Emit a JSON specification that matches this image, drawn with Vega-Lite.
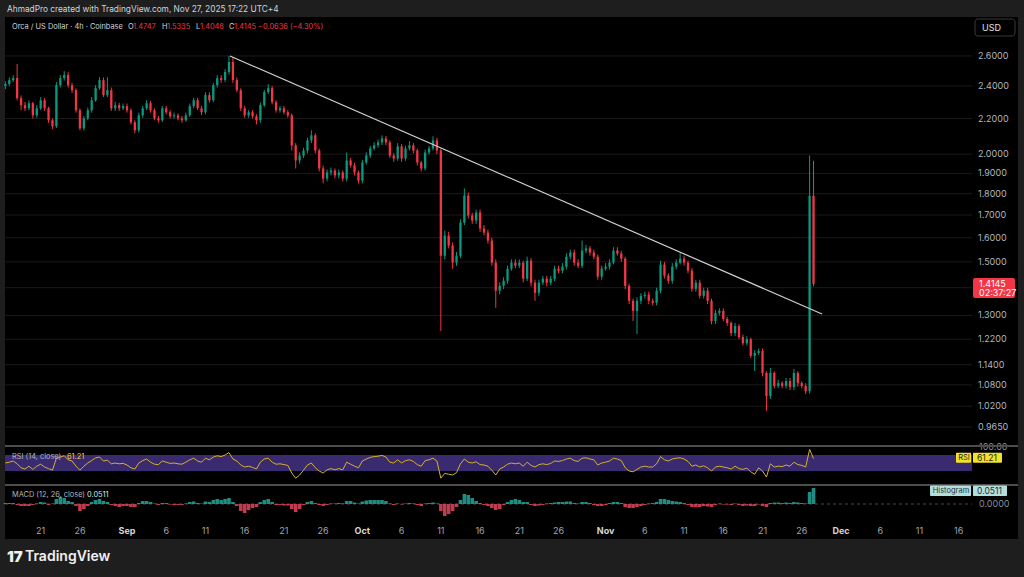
{
"$schema":"https://vega.github.io/schema/vega-lite/v6.json",
"width":1024,"height":577,
"autosize":{"type":"fit","contains":"padding"},
"padding":0,
"background":"#1e1e1e",
"view":{"stroke":null},
"config":{"font":"Inter"},
"datasets":{
"ohlc":[
{"t":"2025-08-16T12:00","o":2.399,"h":2.43,"l":2.38,"c":2.412,"r":50,"m":0.0032},
{"t":"2025-08-17T00:00","o":2.412,"h":2.455,"l":2.40,"c":2.438,"r":52,"m":0.0032},
{"t":"2025-08-17T12:00","o":2.438,"h":2.47,"l":2.425,"c":2.451,"r":55,"m":0.0032},
{"t":"2025-08-18T00:00","o":2.451,"h":2.545,"l":2.31,"c":2.323,"r":48,"m":-0.0032},
{"t":"2025-08-18T12:00","o":2.323,"h":2.34,"l":2.249,"c":2.28,"r":38,"m":-0.0064},
{"t":"2025-08-19T00:00","o":2.28,"h":2.30,"l":2.245,"c":2.261,"r":35,"m":-0.0064},
{"t":"2025-08-19T12:00","o":2.261,"h":2.31,"l":2.25,"c":2.292,"r":42,"m":-0.0064},
{"t":"2025-08-20T00:00","o":2.292,"h":2.30,"l":2.20,"c":2.219,"r":34,"m":-0.0032},
{"t":"2025-08-20T12:00","o":2.219,"h":2.28,"l":2.205,"c":2.261,"r":42,"m":0.0016},
{"t":"2025-08-21T00:00","o":2.261,"h":2.33,"l":2.25,"c":2.31,"r":47,"m":0.0064},
{"t":"2025-08-21T12:00","o":2.31,"h":2.325,"l":2.245,"c":2.261,"r":40,"m":0.0048},
{"t":"2025-08-22T00:00","o":2.261,"h":2.27,"l":2.175,"c":2.19,"r":36,"m":-0.0032},
{"t":"2025-08-22T12:00","o":2.19,"h":2.20,"l":2.138,"c":2.155,"r":32,"m":0.0016},
{"t":"2025-08-23T00:00","o":2.155,"h":2.425,"l":2.145,"c":2.405,"r":62,"m":0.016},
{"t":"2025-08-23T12:00","o":2.405,"h":2.47,"l":2.39,"c":2.451,"r":65,"m":0.0224},
{"t":"2025-08-24T00:00","o":2.451,"h":2.497,"l":2.435,"c":2.471,"r":68,"m":0.0192},
{"t":"2025-08-24T12:00","o":2.471,"h":2.49,"l":2.39,"c":2.405,"r":58,"m":0.0096},
{"t":"2025-08-25T00:00","o":2.405,"h":2.42,"l":2.355,"c":2.373,"r":55,"m":0.0064},
{"t":"2025-08-25T12:00","o":2.373,"h":2.385,"l":2.235,"c":2.249,"r":42,"m":-0.0064},
{"t":"2025-08-26T00:00","o":2.249,"h":2.26,"l":2.132,"c":2.143,"r":32,"m":-0.0224},
{"t":"2025-08-26T12:00","o":2.143,"h":2.215,"l":2.13,"c":2.201,"r":42,"m":-0.016},
{"t":"2025-08-27T00:00","o":2.201,"h":2.265,"l":2.19,"c":2.249,"r":50,"m":-0.0064},
{"t":"2025-08-27T12:00","o":2.249,"h":2.33,"l":2.235,"c":2.31,"r":56,"m":0.0064},
{"t":"2025-08-28T00:00","o":2.31,"h":2.405,"l":2.30,"c":2.386,"r":63,"m":0.0128},
{"t":"2025-08-28T12:00","o":2.386,"h":2.457,"l":2.375,"c":2.438,"r":65,"m":0.016},
{"t":"2025-08-29T00:00","o":2.438,"h":2.455,"l":2.33,"c":2.342,"r":55,"m":0.0096},
{"t":"2025-08-29T12:00","o":2.342,"h":2.457,"l":2.33,"c":2.373,"r":57,"m":0.0064},
{"t":"2025-08-30T00:00","o":2.373,"h":2.39,"l":2.245,"c":2.261,"r":48,"m":-0.0032},
{"t":"2025-08-30T12:00","o":2.261,"h":2.30,"l":2.245,"c":2.28,"r":50,"m":-0.0064},
{"t":"2025-08-31T00:00","o":2.28,"h":2.295,"l":2.245,"c":2.261,"r":48,"m":-0.0096},
{"t":"2025-08-31T12:00","o":2.261,"h":2.29,"l":2.25,"c":2.274,"r":49,"m":-0.0064},
{"t":"2025-09-01T00:00","o":2.274,"h":2.29,"l":2.235,"c":2.249,"r":45,"m":-0.0064},
{"t":"2025-09-01T12:00","o":2.249,"h":2.26,"l":2.165,"c":2.178,"r":38,"m":-0.0096},
{"t":"2025-09-02T00:00","o":2.178,"h":2.19,"l":2.115,"c":2.132,"r":35,"m":-0.0096},
{"t":"2025-09-02T12:00","o":2.132,"h":2.235,"l":2.12,"c":2.219,"r":50,"m":0.0032},
{"t":"2025-09-03T00:00","o":2.219,"h":2.275,"l":2.205,"c":2.261,"r":56,"m":0.0096},
{"t":"2025-09-03T12:00","o":2.261,"h":2.31,"l":2.25,"c":2.292,"r":60,"m":0.0096},
{"t":"2025-09-04T00:00","o":2.292,"h":2.305,"l":2.235,"c":2.249,"r":52,"m":0.0064},
{"t":"2025-09-04T12:00","o":2.249,"h":2.26,"l":2.19,"c":2.201,"r":47,"m":0.0016},
{"t":"2025-09-05T00:00","o":2.201,"h":2.215,"l":2.175,"c":2.19,"r":46,"m":-0.0032},
{"t":"2025-09-05T12:00","o":2.19,"h":2.275,"l":2.18,"c":2.261,"r":55,"m":0.0032},
{"t":"2025-09-06T00:00","o":2.261,"h":2.275,"l":2.225,"c":2.237,"r":52,"m":0.0032},
{"t":"2025-09-06T12:00","o":2.237,"h":2.25,"l":2.20,"c":2.213,"r":49,"m":-0.0016},
{"t":"2025-09-07T00:00","o":2.213,"h":2.235,"l":2.20,"c":2.219,"r":50,"m":-0.0032},
{"t":"2025-09-07T12:00","o":2.219,"h":2.23,"l":2.19,"c":2.201,"r":48,"m":-0.0032},
{"t":"2025-09-08T00:00","o":2.201,"h":2.215,"l":2.175,"c":2.19,"r":47,"m":-0.0032},
{"t":"2025-09-08T12:00","o":2.19,"h":2.235,"l":2.18,"c":2.219,"r":52,"m":0.0016},
{"t":"2025-09-09T00:00","o":2.219,"h":2.29,"l":2.21,"c":2.274,"r":58,"m":0.0064},
{"t":"2025-09-09T12:00","o":2.274,"h":2.325,"l":2.26,"c":2.31,"r":62,"m":0.008},
{"t":"2025-09-10T00:00","o":2.31,"h":2.325,"l":2.25,"c":2.261,"r":55,"m":0.0032},
{"t":"2025-09-10T12:00","o":2.261,"h":2.275,"l":2.22,"c":2.237,"r":52,"m":0.0016},
{"t":"2025-09-11T00:00","o":2.237,"h":2.36,"l":2.225,"c":2.342,"r":62,"m":0.008},
{"t":"2025-09-11T12:00","o":2.342,"h":2.36,"l":2.295,"c":2.31,"r":58,"m":0.0064},
{"t":"2025-09-12T00:00","o":2.31,"h":2.42,"l":2.30,"c":2.405,"r":65,"m":0.0128},
{"t":"2025-09-12T12:00","o":2.405,"h":2.47,"l":2.39,"c":2.451,"r":68,"m":0.016},
{"t":"2025-09-13T00:00","o":2.451,"h":2.47,"l":2.42,"c":2.438,"r":66,"m":0.0128},
{"t":"2025-09-13T12:00","o":2.438,"h":2.51,"l":2.425,"c":2.491,"r":70,"m":0.016},
{"t":"2025-09-14T00:00","o":2.491,"h":2.60,"l":2.475,"c":2.559,"r":76,"m":0.0192},
{"t":"2025-09-14T12:00","o":2.559,"h":2.593,"l":2.42,"c":2.438,"r":60,"m":0.0064},
{"t":"2025-09-15T00:00","o":2.438,"h":2.455,"l":2.36,"c":2.373,"r":55,"m":-0.0064},
{"t":"2025-09-15T12:00","o":2.373,"h":2.385,"l":2.245,"c":2.261,"r":45,"m":-0.0224},
{"t":"2025-09-16T00:00","o":2.261,"h":2.275,"l":2.205,"c":2.219,"r":40,"m":-0.0288},
{"t":"2025-09-16T12:00","o":2.219,"h":2.25,"l":2.205,"c":2.237,"r":42,"m":-0.0192},
{"t":"2025-09-17T00:00","o":2.237,"h":2.25,"l":2.20,"c":2.213,"r":39,"m":-0.0128},
{"t":"2025-09-17T12:00","o":2.213,"h":2.225,"l":2.166,"c":2.19,"r":35,"m":-0.0096},
{"t":"2025-09-18T00:00","o":2.19,"h":2.295,"l":2.175,"c":2.28,"r":52,"m":0.0064},
{"t":"2025-09-18T12:00","o":2.28,"h":2.375,"l":2.27,"c":2.361,"r":60,"m":0.0128},
{"t":"2025-09-19T00:00","o":2.361,"h":2.412,"l":2.35,"c":2.386,"r":62,"m":0.016},
{"t":"2025-09-19T12:00","o":2.386,"h":2.40,"l":2.285,"c":2.298,"r":52,"m":0.0064},
{"t":"2025-09-20T00:00","o":2.298,"h":2.31,"l":2.235,"c":2.249,"r":47,"m":-0.0032},
{"t":"2025-09-20T12:00","o":2.249,"h":2.275,"l":2.235,"c":2.261,"r":48,"m":-0.0032},
{"t":"2025-09-21T00:00","o":2.261,"h":2.275,"l":2.225,"c":2.237,"r":46,"m":-0.0048},
{"t":"2025-09-21T12:00","o":2.237,"h":2.25,"l":2.205,"c":2.219,"r":44,"m":-0.0048},
{"t":"2025-09-22T00:00","o":2.219,"h":2.23,"l":2.02,"c":2.048,"r":25,"m":-0.016},
{"t":"2025-09-22T12:00","o":2.048,"h":2.06,"l":1.925,"c":1.967,"r":12,"m":-0.0256},
{"t":"2025-09-23T00:00","o":1.967,"h":2.01,"l":1.95,"c":1.993,"r":20,"m":-0.016},
{"t":"2025-09-23T12:00","o":1.993,"h":2.035,"l":1.98,"c":2.02,"r":32,"m":-0.0032},
{"t":"2025-09-24T00:00","o":2.02,"h":2.09,"l":2.005,"c":2.075,"r":45,"m":0.0064},
{"t":"2025-09-24T12:00","o":2.075,"h":2.132,"l":2.06,"c":2.103,"r":50,"m":0.0096},
{"t":"2025-09-25T00:00","o":2.103,"h":2.115,"l":2.005,"c":2.02,"r":38,"m":0.0032},
{"t":"2025-09-25T12:00","o":2.02,"h":2.03,"l":1.91,"c":1.925,"r":30,"m":-0.0032},
{"t":"2025-09-26T00:00","o":1.925,"h":1.94,"l":1.85,"c":1.874,"r":25,"m":-0.0064},
{"t":"2025-09-26T12:00","o":1.874,"h":1.92,"l":1.86,"c":1.905,"r":33,"m":-0.0032},
{"t":"2025-09-27T00:00","o":1.905,"h":1.93,"l":1.89,"c":1.915,"r":36,"m":0.0016},
{"t":"2025-09-27T12:00","o":1.915,"h":1.925,"l":1.875,"c":1.89,"r":33,"m":0.0016},
{"t":"2025-09-28T00:00","o":1.89,"h":1.92,"l":1.875,"c":1.905,"r":36,"m":0.0032},
{"t":"2025-09-28T12:00","o":1.905,"h":1.915,"l":1.86,"c":1.874,"r":33,"m":0.0016},
{"t":"2025-09-29T00:00","o":1.874,"h":2.009,"l":1.86,"c":1.967,"r":52,"m":0.0096},
{"t":"2025-09-29T12:00","o":1.967,"h":1.98,"l":1.93,"c":1.941,"r":47,"m":0.0096},
{"t":"2025-09-30T00:00","o":1.941,"h":1.955,"l":1.89,"c":1.905,"r":42,"m":0.0048},
{"t":"2025-09-30T12:00","o":1.905,"h":1.915,"l":1.85,"c":1.864,"r":38,"m":0.0016},
{"t":"2025-10-01T00:00","o":1.864,"h":1.97,"l":1.85,"c":1.956,"r":55,"m":0.008},
{"t":"2025-10-01T12:00","o":1.956,"h":2.01,"l":1.945,"c":1.993,"r":60,"m":0.0112},
{"t":"2025-10-02T00:00","o":1.993,"h":2.045,"l":1.98,"c":2.031,"r":64,"m":0.0128},
{"t":"2025-10-02T12:00","o":2.031,"h":2.065,"l":2.02,"c":2.048,"r":66,"m":0.0128},
{"t":"2025-10-03T00:00","o":2.048,"h":2.08,"l":2.035,"c":2.064,"r":67,"m":0.0128},
{"t":"2025-10-03T12:00","o":2.064,"h":2.103,"l":2.05,"c":2.086,"r":69,"m":0.0128},
{"t":"2025-10-04T00:00","o":2.086,"h":2.10,"l":2.05,"c":2.064,"r":65,"m":0.0096},
{"t":"2025-10-04T12:00","o":2.064,"h":2.075,"l":1.98,"c":1.993,"r":52,"m":0.0016},
{"t":"2025-10-05T00:00","o":1.993,"h":2.005,"l":1.96,"c":1.977,"r":50,"m":-0.0032},
{"t":"2025-10-05T12:00","o":1.977,"h":2.06,"l":1.965,"c":2.042,"r":58,"m":0.0016},
{"t":"2025-10-06T00:00","o":2.042,"h":2.055,"l":1.96,"c":1.977,"r":50,"m":-0.0016},
{"t":"2025-10-06T12:00","o":1.977,"h":2.045,"l":1.965,"c":2.031,"r":56,"m":0.0016},
{"t":"2025-10-07T00:00","o":2.031,"h":2.07,"l":2.02,"c":2.048,"r":58,"m":0.0032},
{"t":"2025-10-07T12:00","o":2.048,"h":2.06,"l":2.005,"c":2.02,"r":54,"m":0.0016},
{"t":"2025-10-08T00:00","o":2.02,"h":2.03,"l":1.94,"c":1.956,"r":46,"m":-0.0032},
{"t":"2025-10-08T12:00","o":1.956,"h":1.965,"l":1.91,"c":1.925,"r":42,"m":-0.0064},
{"t":"2025-10-09T00:00","o":1.925,"h":2.025,"l":1.915,"c":2.009,"r":56,"m":0.0016},
{"t":"2025-10-09T12:00","o":2.009,"h":2.045,"l":2.0,"c":2.031,"r":58,"m":0.0032},
{"t":"2025-10-10T00:00","o":2.031,"h":2.098,"l":2.02,"c":2.075,"r":62,"m":0.0048},
{"t":"2025-10-10T12:00","o":2.075,"h":2.09,"l":2.0,"c":2.02,"r":55,"m":0.0016},
{"t":"2025-10-11T00:00","o":2.02,"h":2.03,"l":1.247,"c":1.525,"r":12,"m":-0.0224},
{"t":"2025-10-11T12:00","o":1.525,"h":1.63,"l":1.51,"c":1.609,"r":24,"m":-0.0384},
{"t":"2025-10-12T00:00","o":1.609,"h":1.625,"l":1.555,"c":1.567,"r":22,"m":-0.032},
{"t":"2025-10-12T12:00","o":1.567,"h":1.58,"l":1.473,"c":1.497,"r":20,"m":-0.0224},
{"t":"2025-10-13T00:00","o":1.497,"h":1.54,"l":1.485,"c":1.525,"r":26,"m":-0.0096},
{"t":"2025-10-13T12:00","o":1.525,"h":1.68,"l":1.515,"c":1.666,"r":48,"m":0.0128},
{"t":"2025-10-14T00:00","o":1.666,"h":1.825,"l":1.655,"c":1.791,"r":60,"m":0.032},
{"t":"2025-10-14T12:00","o":1.791,"h":1.805,"l":1.685,"c":1.698,"r":52,"m":0.0288},
{"t":"2025-10-15T00:00","o":1.698,"h":1.71,"l":1.66,"c":1.675,"r":50,"m":0.0192},
{"t":"2025-10-15T12:00","o":1.675,"h":1.725,"l":1.66,"c":1.712,"r":53,"m":0.0096},
{"t":"2025-10-16T00:00","o":1.712,"h":1.725,"l":1.625,"c":1.64,"r":46,"m":0.0032},
{"t":"2025-10-16T12:00","o":1.64,"h":1.655,"l":1.61,"c":1.622,"r":45,"m":-0.0032},
{"t":"2025-10-17T00:00","o":1.622,"h":1.635,"l":1.575,"c":1.588,"r":42,"m":-0.0064},
{"t":"2025-10-17T12:00","o":1.588,"h":1.60,"l":1.485,"c":1.497,"r":32,"m":-0.0128},
{"t":"2025-10-18T00:00","o":1.497,"h":1.51,"l":1.327,"c":1.389,"r":20,"m":-0.0192},
{"t":"2025-10-18T12:00","o":1.389,"h":1.42,"l":1.375,"c":1.407,"r":35,"m":-0.016},
{"t":"2025-10-19T00:00","o":1.407,"h":1.44,"l":1.395,"c":1.426,"r":40,"m":-0.0032},
{"t":"2025-10-19T12:00","o":1.426,"h":1.485,"l":1.415,"c":1.473,"r":47,"m":0.0064},
{"t":"2025-10-20T00:00","o":1.473,"h":1.51,"l":1.465,"c":1.497,"r":50,"m":0.0128},
{"t":"2025-10-20T12:00","o":1.497,"h":1.51,"l":1.475,"c":1.485,"r":48,"m":0.016},
{"t":"2025-10-21T00:00","o":1.485,"h":1.51,"l":1.475,"c":1.497,"r":50,"m":0.0128},
{"t":"2025-10-21T12:00","o":1.497,"h":1.505,"l":1.42,"c":1.434,"r":42,"m":0.0064},
{"t":"2025-10-22T00:00","o":1.434,"h":1.521,"l":1.425,"c":1.505,"r":52,"m":0.0064},
{"t":"2025-10-22T12:00","o":1.505,"h":1.515,"l":1.405,"c":1.419,"r":44,"m":-0.0032},
{"t":"2025-10-23T00:00","o":1.419,"h":1.43,"l":1.352,"c":1.381,"r":40,"m":-0.0064},
{"t":"2025-10-23T12:00","o":1.381,"h":1.43,"l":1.37,"c":1.419,"r":46,"m":-0.0048},
{"t":"2025-10-24T00:00","o":1.419,"h":1.445,"l":1.41,"c":1.434,"r":48,"m":-0.0032},
{"t":"2025-10-24T12:00","o":1.434,"h":1.445,"l":1.405,"c":1.419,"r":46,"m":0.0016},
{"t":"2025-10-25T00:00","o":1.419,"h":1.445,"l":1.41,"c":1.434,"r":49,"m":0.0032},
{"t":"2025-10-25T12:00","o":1.434,"h":1.485,"l":1.425,"c":1.473,"r":55,"m":0.0048},
{"t":"2025-10-26T00:00","o":1.473,"h":1.485,"l":1.455,"c":1.465,"r":54,"m":0.0064},
{"t":"2025-10-26T12:00","o":1.465,"h":1.495,"l":1.455,"c":1.481,"r":56,"m":0.0064},
{"t":"2025-10-27T00:00","o":1.481,"h":1.535,"l":1.47,"c":1.521,"r":60,"m":0.008},
{"t":"2025-10-27T12:00","o":1.521,"h":1.55,"l":1.51,"c":1.538,"r":62,"m":0.008},
{"t":"2025-10-28T00:00","o":1.538,"h":1.55,"l":1.485,"c":1.497,"r":56,"m":0.0032},
{"t":"2025-10-28T12:00","o":1.497,"h":1.51,"l":1.475,"c":1.485,"r":54,"m":0.0016},
{"t":"2025-10-29T00:00","o":1.485,"h":1.588,"l":1.475,"c":1.546,"r":62,"m":0.0064},
{"t":"2025-10-29T12:00","o":1.546,"h":1.57,"l":1.535,"c":1.555,"r":63,"m":0.0064},
{"t":"2025-10-30T00:00","o":1.555,"h":1.565,"l":1.525,"c":1.538,"r":60,"m":0.0032},
{"t":"2025-10-30T12:00","o":1.538,"h":1.55,"l":1.51,"c":1.521,"r":58,"m":-0.0032},
{"t":"2025-10-31T00:00","o":1.521,"h":1.53,"l":1.43,"c":1.442,"r":45,"m":-0.0064},
{"t":"2025-10-31T12:00","o":1.442,"h":1.485,"l":1.43,"c":1.473,"r":50,"m":-0.0064},
{"t":"2025-11-01T00:00","o":1.473,"h":1.495,"l":1.465,"c":1.481,"r":52,"m":-0.0032},
{"t":"2025-11-01T12:00","o":1.481,"h":1.51,"l":1.47,"c":1.497,"r":55,"m":0.0032},
{"t":"2025-11-02T00:00","o":1.497,"h":1.56,"l":1.49,"c":1.546,"r":62,"m":0.0064},
{"t":"2025-11-02T12:00","o":1.546,"h":1.56,"l":1.525,"c":1.534,"r":60,"m":0.0064},
{"t":"2025-11-03T00:00","o":1.534,"h":1.545,"l":1.50,"c":1.513,"r":56,"m":0.0032},
{"t":"2025-11-03T12:00","o":1.513,"h":1.52,"l":1.395,"c":1.407,"r":38,"m":-0.0096},
{"t":"2025-11-04T00:00","o":1.407,"h":1.415,"l":1.34,"c":1.352,"r":30,"m":-0.0128},
{"t":"2025-11-04T12:00","o":1.352,"h":1.36,"l":1.281,"c":1.316,"r":28,"m":-0.0128},
{"t":"2025-11-05T00:00","o":1.316,"h":1.365,"l":1.237,"c":1.352,"r":34,"m":-0.0096},
{"t":"2025-11-05T12:00","o":1.352,"h":1.38,"l":1.34,"c":1.37,"r":40,"m":-0.0064},
{"t":"2025-11-06T00:00","o":1.37,"h":1.385,"l":1.36,"c":1.374,"r":42,"m":-0.0032},
{"t":"2025-11-06T12:00","o":1.374,"h":1.385,"l":1.34,"c":1.352,"r":40,"m":0.0016},
{"t":"2025-11-07T00:00","o":1.352,"h":1.36,"l":1.335,"c":1.345,"r":40,"m":0.0032},
{"t":"2025-11-07T12:00","o":1.345,"h":1.40,"l":1.335,"c":1.389,"r":48,"m":0.0064},
{"t":"2025-11-08T00:00","o":1.389,"h":1.505,"l":1.38,"c":1.489,"r":66,"m":0.016},
{"t":"2025-11-08T12:00","o":1.489,"h":1.50,"l":1.435,"c":1.446,"r":58,"m":0.016},
{"t":"2025-11-09T00:00","o":1.446,"h":1.455,"l":1.415,"c":1.426,"r":55,"m":0.0128},
{"t":"2025-11-09T12:00","o":1.426,"h":1.495,"l":1.415,"c":1.481,"r":60,"m":0.0096},
{"t":"2025-11-10T00:00","o":1.481,"h":1.51,"l":1.47,"c":1.497,"r":62,"m":0.008},
{"t":"2025-11-10T12:00","o":1.497,"h":1.538,"l":1.49,"c":1.513,"r":63,"m":0.0064},
{"t":"2025-11-11T00:00","o":1.513,"h":1.525,"l":1.485,"c":1.497,"r":60,"m":0.0032},
{"t":"2025-11-11T12:00","o":1.497,"h":1.505,"l":1.455,"c":1.465,"r":54,"m":-0.0032},
{"t":"2025-11-12T00:00","o":1.465,"h":1.475,"l":1.385,"c":1.396,"r":42,"m":-0.0096},
{"t":"2025-11-12T12:00","o":1.396,"h":1.43,"l":1.385,"c":1.419,"r":45,"m":-0.0096},
{"t":"2025-11-13T00:00","o":1.419,"h":1.43,"l":1.36,"c":1.37,"r":40,"m":-0.0096},
{"t":"2025-11-13T12:00","o":1.37,"h":1.40,"l":1.36,"c":1.389,"r":43,"m":-0.0064},
{"t":"2025-11-14T00:00","o":1.389,"h":1.40,"l":1.34,"c":1.352,"r":38,"m":-0.008},
{"t":"2025-11-14T12:00","o":1.352,"h":1.36,"l":1.27,"c":1.281,"r":30,"m":-0.0096},
{"t":"2025-11-15T00:00","o":1.281,"h":1.32,"l":1.27,"c":1.309,"r":40,"m":-0.0032},
{"t":"2025-11-15T12:00","o":1.309,"h":1.325,"l":1.30,"c":1.316,"r":42,"m":0.0016},
{"t":"2025-11-16T00:00","o":1.316,"h":1.325,"l":1.28,"c":1.288,"r":40,"m":-0.0016},
{"t":"2025-11-16T12:00","o":1.288,"h":1.295,"l":1.265,"c":1.274,"r":38,"m":-0.0016},
{"t":"2025-11-17T00:00","o":1.274,"h":1.28,"l":1.23,"c":1.24,"r":35,"m":-0.0032},
{"t":"2025-11-17T12:00","o":1.24,"h":1.275,"l":1.23,"c":1.264,"r":42,"m":0.0016},
{"t":"2025-11-18T00:00","o":1.264,"h":1.27,"l":1.22,"c":1.227,"r":36,"m":-0.0032},
{"t":"2025-11-18T12:00","o":1.227,"h":1.235,"l":1.20,"c":1.207,"r":34,"m":-0.0064},
{"t":"2025-11-19T00:00","o":1.207,"h":1.23,"l":1.20,"c":1.22,"r":37,"m":-0.0048},
{"t":"2025-11-19T12:00","o":1.22,"h":1.225,"l":1.16,"c":1.167,"r":28,"m":-0.0064},
{"t":"2025-11-20T00:00","o":1.167,"h":1.185,"l":1.121,"c":1.176,"r":22,"m":-0.0064},
{"t":"2025-11-20T12:00","o":1.176,"h":1.19,"l":1.17,"c":1.182,"r":38,"m":-0.0016},
{"t":"2025-11-21T00:00","o":1.182,"h":1.19,"l":1.105,"c":1.115,"r":30,"m":-0.0064},
{"t":"2025-11-21T12:00","o":1.115,"h":1.12,"l":1.007,"c":1.048,"r":15,"m":-0.0096},
{"t":"2025-11-22T00:00","o":1.048,"h":1.13,"l":1.04,"c":1.115,"r":48,"m":0.0032},
{"t":"2025-11-22T12:00","o":1.115,"h":1.12,"l":1.07,"c":1.077,"r":40,"m":0.0048},
{"t":"2025-11-23T00:00","o":1.077,"h":1.095,"l":1.07,"c":1.085,"r":42,"m":0.0048},
{"t":"2025-11-23T12:00","o":1.085,"h":1.09,"l":1.07,"c":1.077,"r":41,"m":0.0032},
{"t":"2025-11-24T00:00","o":1.077,"h":1.10,"l":1.07,"c":1.091,"r":45,"m":0.0048},
{"t":"2025-11-24T12:00","o":1.091,"h":1.10,"l":1.065,"c":1.074,"r":42,"m":0.0032},
{"t":"2025-11-25T00:00","o":1.074,"h":1.127,"l":1.065,"c":1.115,"r":52,"m":0.0064},
{"t":"2025-11-25T12:00","o":1.115,"h":1.12,"l":1.075,"c":1.085,"r":46,"m":0.0048},
{"t":"2025-11-26T00:00","o":1.085,"h":1.09,"l":1.07,"c":1.077,"r":44,"m":0.0032},
{"t":"2025-11-26T12:00","o":1.077,"h":1.085,"l":1.054,"c":1.062,"r":40,"m":0.0016},
{"t":"2025-11-27T00:00","o":1.062,"h":1.993,"l":1.055,"c":1.79,"r":84,"m":0.0384},
{"t":"2025-11-27T12:00","o":1.79,"h":1.965,"l":1.4048,"c":1.4145,"r":61.21,"m":0.0511}
],
"trend":[{"t":"2025-09-14T03:04","p":2.6},{"t":"2025-11-28T13:55","p":1.305}],
"grid":[{"p":2.6},{"p":2.4},{"p":2.2},{"p":2.0},{"p":1.9},{"p":1.8},{"p":1.7},{"p":1.6},{"p":1.5},{"p":1.4},{"p":1.3},{"p":1.22},{"p":1.14},{"p":1.08},{"p":1.02},{"p":0.965}],
"ylabels":[{"p":2.6},{"p":2.4},{"p":2.2},{"p":2.0},{"p":1.9},{"p":1.8},{"p":1.7},{"p":1.6},{"p":1.5},{"p":1.3},{"p":1.22},{"p":1.14},{"p":1.08},{"p":1.02},{"p":0.965}],
"xdays":[{"d":"2025-08-21T00:00"},{"d":"2025-08-26T00:00"},{"d":"2025-09-06T00:00"},{"d":"2025-09-11T00:00"},{"d":"2025-09-16T00:00"},{"d":"2025-09-21T00:00"},{"d":"2025-09-26T00:00"},{"d":"2025-10-06T00:00"},{"d":"2025-10-11T00:00"},{"d":"2025-10-16T00:00"},{"d":"2025-10-21T00:00"},{"d":"2025-10-26T00:00"},{"d":"2025-11-06T00:00"},{"d":"2025-11-11T00:00"},{"d":"2025-11-16T00:00"},{"d":"2025-11-21T00:00"},{"d":"2025-11-26T00:00"},{"d":"2025-12-06T00:00"},{"d":"2025-12-11T00:00"},{"d":"2025-12-16T00:00"}],
"xmonths":[{"d":"2025-09-01T00:00"},{"d":"2025-10-01T00:00"},{"d":"2025-11-01T00:00"},{"d":"2025-12-01T00:00"}]
},
"layer":[
{"layer":[
 {"data":{"values":[{}]},"mark":{"type":"rect","color":"#000000"},
  "encoding":{"x":{"datum":{"year":2025,"month":8,"date":16,"hours":10,"minutes":48},"type":"temporal","scale":{"domain":[{"year":2025,"month":8,"date":15,"hours":19,"minutes":32},{"year":2025,"month":12,"date":24,"hours":7,"minutes":49}]},"axis":null,"title":null},
  "x2":{"datum":{"year":2025,"month":12,"date":23,"hours":13,"minutes":26}},
  "y":{"datum":2.8855,"type":"quantitative","scale":{"type":"log","domain":[0.6464,3.0195],"nice":false,"zero":false},"axis":null,"title":null},
  "y2":{"datum":0.7154}}},
 {"data":{"name":"grid"},"mark":{"type":"rule","color":"#1a1a1a","strokeWidth":1},
  "encoding":{"x":{"datum":{"year":2025,"month":8,"date":16,"hours":10,"minutes":48},"type":"temporal","scale":{"domain":[{"year":2025,"month":8,"date":15,"hours":19,"minutes":32},{"year":2025,"month":12,"date":24,"hours":7,"minutes":49}]},"axis":null,"title":null},
  "x2":{"datum":{"year":2025,"month":12,"date":17,"hours":16,"minutes":48}},
  "y":{"field":"p","type":"quantitative","scale":{"type":"log","domain":[0.6464,3.0195],"nice":false,"zero":false},"axis":null,"title":null}}},
 {"data":{"name":"ylabels"},"mark":{"type":"text","align":"left","baseline":"middle","dx":3,"fontSize":9,"color":"#b2b5be"},
  "encoding":{"x":{"datum":{"year":2025,"month":12,"date":18,"hours":1,"minutes":57},"type":"temporal","scale":{"domain":[{"year":2025,"month":8,"date":15,"hours":19,"minutes":32},{"year":2025,"month":12,"date":24,"hours":7,"minutes":49}]},"axis":null,"title":null},
  "y":{"field":"p","type":"quantitative","scale":{"type":"log","domain":[0.6464,3.0195],"nice":false,"zero":false},"axis":null,"title":null},
  "text":{"field":"p","type":"quantitative","format":".4f"}}},
 {"data":{"name":"ohlc"},"mark":{"type":"rule","strokeWidth":1},
  "encoding":{"x":{"field":"t","type":"temporal","scale":{"domain":[{"year":2025,"month":8,"date":15,"hours":19,"minutes":32},{"year":2025,"month":12,"date":24,"hours":7,"minutes":49}]},"axis":null,"title":null},
  "y":{"field":"l","type":"quantitative","scale":{"type":"log","domain":[0.6464,3.0195],"nice":false,"zero":false},"axis":null,"title":null},
  "y2":{"field":"h"},
  "color":{"condition":{"test":"datum.c >= datum.o","value":"#089981"},"value":"#f23645"}}},
 {"data":{"name":"ohlc"},"mark":{"type":"rule","strokeWidth":2.3},
  "encoding":{"x":{"field":"t","type":"temporal","scale":{"domain":[{"year":2025,"month":8,"date":15,"hours":19,"minutes":32},{"year":2025,"month":12,"date":24,"hours":7,"minutes":49}]},"axis":null,"title":null},
  "y":{"field":"o","type":"quantitative","scale":{"type":"log","domain":[0.6464,3.0195],"nice":false,"zero":false},"axis":null,"title":null},
  "y2":{"field":"c"},
  "color":{"condition":{"test":"datum.c >= datum.o","value":"#089981"},"value":"#f23645"}}},
 {"data":{"name":"trend"},"mark":{"type":"line","color":"#cfcfcf","strokeWidth":1.2},
  "encoding":{"x":{"field":"t","type":"temporal","scale":{"domain":[{"year":2025,"month":8,"date":15,"hours":19,"minutes":32},{"year":2025,"month":12,"date":24,"hours":7,"minutes":49}]},"axis":null,"title":null},
  "y":{"field":"p","type":"quantitative","scale":{"type":"log","domain":[0.6464,3.0195],"nice":false,"zero":false},"axis":null,"title":null}}},
 {"data":{"values":[{}]},"mark":{"type":"rect","color":"#f23645","cornerRadius":2},
  "encoding":{"x":{"datum":{"year":2025,"month":12,"date":17,"hours":19,"minutes":49},"type":"temporal","scale":{"domain":[{"year":2025,"month":8,"date":15,"hours":19,"minutes":32},{"year":2025,"month":12,"date":24,"hours":7,"minutes":49}]},"axis":null,"title":null},
  "x2":{"datum":{"year":2025,"month":12,"date":23,"hours":4,"minutes":19}},
  "y":{"datum":1.4368,"type":"quantitative","scale":{"type":"log","domain":[0.6464,3.0195],"nice":false,"zero":false},"axis":null,"title":null},
  "y2":{"datum":1.362}}},
 {"data":{"values":[{}]},"mark":{"type":"rect","fill":"#000000","stroke":"#3a3a3a","strokeWidth":1,"cornerRadius":3},
  "encoding":{"x":{"datum":{"year":2025,"month":12,"date":18,"hours":1,"minutes":57},"type":"temporal","scale":{"domain":[{"year":2025,"month":8,"date":15,"hours":19,"minutes":32},{"year":2025,"month":12,"date":24,"hours":7,"minutes":49}]},"axis":null,"title":null},
  "x2":{"datum":{"year":2025,"month":12,"date":23,"hours":4,"minutes":19}},
  "y":{"datum":2.870,"type":"quantitative","scale":{"type":"log","domain":[0.6464,3.0195],"nice":false,"zero":false},"axis":null,"title":null},
  "y2":{"datum":2.7427}}},
 {"data":{"values":[{}]},"mark":{"type":"text","text":"1.4145","align":"left","baseline":"middle","dx":4,"fontSize":9,"color":"#ffffff"},
  "encoding":{"x":{"datum":{"year":2025,"month":12,"date":18,"hours":1,"minutes":57},"type":"temporal","scale":{"domain":[{"year":2025,"month":8,"date":15,"hours":19,"minutes":32},{"year":2025,"month":12,"date":24,"hours":7,"minutes":49}]},"axis":null,"title":null},
  "y":{"datum":1.4145,"type":"quantitative","scale":{"type":"log","domain":[0.6464,3.0195],"nice":false,"zero":false},"axis":null,"title":null}}},
 {"data":{"values":[{}]},"mark":{"type":"text","text":"02:37:27","align":"left","baseline":"middle","dx":4,"fontSize":9,"color":"#ffffff"},
  "encoding":{"x":{"datum":{"year":2025,"month":12,"date":18,"hours":1,"minutes":57},"type":"temporal","scale":{"domain":[{"year":2025,"month":8,"date":15,"hours":19,"minutes":32},{"year":2025,"month":12,"date":24,"hours":7,"minutes":49}]},"axis":null,"title":null},
  "y":{"datum":1.3803,"type":"quantitative","scale":{"type":"log","domain":[0.6464,3.0195],"nice":false,"zero":false},"axis":null,"title":null}}},
 {"data":{"values":[{}]},"mark":{"type":"text","text":"USD","align":"left","baseline":"middle","dx":7,"fontSize":9,"color":"#e0e0e0"},
  "encoding":{"x":{"datum":{"year":2025,"month":12,"date":18,"hours":1,"minutes":57},"type":"temporal","scale":{"domain":[{"year":2025,"month":8,"date":15,"hours":19,"minutes":32},{"year":2025,"month":12,"date":24,"hours":7,"minutes":49}]},"axis":null,"title":null},
  "y":{"datum":2.8055,"type":"quantitative","scale":{"type":"log","domain":[0.6464,3.0195],"nice":false,"zero":false},"axis":null,"title":null}}},
 {"data":{"values":[{}]},"mark":{"type":"text","text":"AhmadPro created with TradingView.com, Nov 27, 2025 17:22 UTC+4","align":"left","baseline":"middle","dx":-5,"fontSize":8.3,"color":"#d1d4dc"},
  "encoding":{"x":{"datum":{"year":2025,"month":8,"date":17,"hours":8,"minutes":14},"type":"temporal","scale":{"domain":[{"year":2025,"month":8,"date":15,"hours":19,"minutes":32},{"year":2025,"month":12,"date":24,"hours":7,"minutes":49}]},"axis":null,"title":null},
  "y":{"datum":2.94,"type":"quantitative","scale":{"type":"log","domain":[0.6464,3.0195],"nice":false,"zero":false},"axis":null,"title":null}}},
 {"data":{"values":[{}]},"mark":{"type":"text","text":"Orca / US Dollar · 4h · Coinbase","align":"left","baseline":"middle","fontSize":7.4,"color":"#d1d4dc"},
  "encoding":{"x":{"datum":{"year":2025,"month":8,"date":17,"hours":8,"minutes":14},"type":"temporal","scale":{"domain":[{"year":2025,"month":8,"date":15,"hours":19,"minutes":32},{"year":2025,"month":12,"date":24,"hours":7,"minutes":49}]},"axis":null,"title":null},
  "y":{"datum":2.8095,"type":"quantitative","scale":{"type":"log","domain":[0.6464,3.0195],"nice":false,"zero":false},"axis":null,"title":null}}},
 {"data":{"values":[{}]},"mark":{"type":"text","text":"O","align":"left","baseline":"middle","dx":116,"fontSize":7.4,"color":"#d1d4dc"},
  "encoding":{"x":{"datum":{"year":2025,"month":8,"date":17,"hours":8,"minutes":14},"type":"temporal","scale":{"domain":[{"year":2025,"month":8,"date":15,"hours":19,"minutes":32},{"year":2025,"month":12,"date":24,"hours":7,"minutes":49}]},"axis":null,"title":null},
  "y":{"datum":2.8095,"type":"quantitative","scale":{"type":"log","domain":[0.6464,3.0195],"nice":false,"zero":false},"axis":null,"title":null}}},
 {"data":{"values":[{}]},"mark":{"type":"text","text":"1.4747","align":"left","baseline":"middle","dx":121,"fontSize":7.4,"color":"#f23645"},
  "encoding":{"x":{"datum":{"year":2025,"month":8,"date":17,"hours":8,"minutes":14},"type":"temporal","scale":{"domain":[{"year":2025,"month":8,"date":15,"hours":19,"minutes":32},{"year":2025,"month":12,"date":24,"hours":7,"minutes":49}]},"axis":null,"title":null},
  "y":{"datum":2.8095,"type":"quantitative","scale":{"type":"log","domain":[0.6464,3.0195],"nice":false,"zero":false},"axis":null,"title":null}}},
 {"data":{"values":[{}]},"mark":{"type":"text","text":"H","align":"left","baseline":"middle","dx":150,"fontSize":7.4,"color":"#d1d4dc"},
  "encoding":{"x":{"datum":{"year":2025,"month":8,"date":17,"hours":8,"minutes":14},"type":"temporal","scale":{"domain":[{"year":2025,"month":8,"date":15,"hours":19,"minutes":32},{"year":2025,"month":12,"date":24,"hours":7,"minutes":49}]},"axis":null,"title":null},
  "y":{"datum":2.8095,"type":"quantitative","scale":{"type":"log","domain":[0.6464,3.0195],"nice":false,"zero":false},"axis":null,"title":null}}},
 {"data":{"values":[{}]},"mark":{"type":"text","text":"1.5335","align":"left","baseline":"middle","dx":155,"fontSize":7.4,"color":"#f23645"},
  "encoding":{"x":{"datum":{"year":2025,"month":8,"date":17,"hours":8,"minutes":14},"type":"temporal","scale":{"domain":[{"year":2025,"month":8,"date":15,"hours":19,"minutes":32},{"year":2025,"month":12,"date":24,"hours":7,"minutes":49}]},"axis":null,"title":null},
  "y":{"datum":2.8095,"type":"quantitative","scale":{"type":"log","domain":[0.6464,3.0195],"nice":false,"zero":false},"axis":null,"title":null}}},
 {"data":{"values":[{}]},"mark":{"type":"text","text":"L","align":"left","baseline":"middle","dx":184,"fontSize":7.4,"color":"#d1d4dc"},
  "encoding":{"x":{"datum":{"year":2025,"month":8,"date":17,"hours":8,"minutes":14},"type":"temporal","scale":{"domain":[{"year":2025,"month":8,"date":15,"hours":19,"minutes":32},{"year":2025,"month":12,"date":24,"hours":7,"minutes":49}]},"axis":null,"title":null},
  "y":{"datum":2.8095,"type":"quantitative","scale":{"type":"log","domain":[0.6464,3.0195],"nice":false,"zero":false},"axis":null,"title":null}}},
 {"data":{"values":[{}]},"mark":{"type":"text","text":"1.4048","align":"left","baseline":"middle","dx":188,"fontSize":7.4,"color":"#f23645"},
  "encoding":{"x":{"datum":{"year":2025,"month":8,"date":17,"hours":8,"minutes":14},"type":"temporal","scale":{"domain":[{"year":2025,"month":8,"date":15,"hours":19,"minutes":32},{"year":2025,"month":12,"date":24,"hours":7,"minutes":49}]},"axis":null,"title":null},
  "y":{"datum":2.8095,"type":"quantitative","scale":{"type":"log","domain":[0.6464,3.0195],"nice":false,"zero":false},"axis":null,"title":null}}},
 {"data":{"values":[{}]},"mark":{"type":"text","text":"C","align":"left","baseline":"middle","dx":217,"fontSize":7.4,"color":"#d1d4dc"},
  "encoding":{"x":{"datum":{"year":2025,"month":8,"date":17,"hours":8,"minutes":14},"type":"temporal","scale":{"domain":[{"year":2025,"month":8,"date":15,"hours":19,"minutes":32},{"year":2025,"month":12,"date":24,"hours":7,"minutes":49}]},"axis":null,"title":null},
  "y":{"datum":2.8095,"type":"quantitative","scale":{"type":"log","domain":[0.6464,3.0195],"nice":false,"zero":false},"axis":null,"title":null}}},
 {"data":{"values":[{}]},"mark":{"type":"text","text":"1.4145  −0.0636 (−4.30%)","align":"left","baseline":"middle","dx":222,"fontSize":7.4,"color":"#f23645"},
  "encoding":{"x":{"datum":{"year":2025,"month":8,"date":17,"hours":8,"minutes":14},"type":"temporal","scale":{"domain":[{"year":2025,"month":8,"date":15,"hours":19,"minutes":32},{"year":2025,"month":12,"date":24,"hours":7,"minutes":49}]},"axis":null,"title":null},
  "y":{"datum":2.8095,"type":"quantitative","scale":{"type":"log","domain":[0.6464,3.0195],"nice":false,"zero":false},"axis":null,"title":null}}},
 {"data":{"values":[{}]},"mark":{"type":"text","text":"17","align":"left","baseline":"middle","dx":-5,"fontSize":15,"fontWeight":900,"color":"#f0f0f0"},
  "encoding":{"x":{"datum":{"year":2025,"month":8,"date":17,"hours":8,"minutes":14},"type":"temporal","scale":{"domain":[{"year":2025,"month":8,"date":15,"hours":19,"minutes":32},{"year":2025,"month":12,"date":24,"hours":7,"minutes":49}]},"axis":null,"title":null},
  "y":{"datum":0.6818,"type":"quantitative","scale":{"type":"log","domain":[0.6464,3.0195],"nice":false,"zero":false},"axis":null,"title":null}}},
 {"data":{"values":[{}]},"mark":{"type":"text","text":"TradingView","align":"left","baseline":"middle","dx":13,"fontSize":14,"fontWeight":600,"color":"#f0f0f0"},
  "encoding":{"x":{"datum":{"year":2025,"month":8,"date":17,"hours":8,"minutes":14},"type":"temporal","scale":{"domain":[{"year":2025,"month":8,"date":15,"hours":19,"minutes":32},{"year":2025,"month":12,"date":24,"hours":7,"minutes":49}]},"axis":null,"title":null},
  "y":{"datum":0.6818,"type":"quantitative","scale":{"type":"log","domain":[0.6464,3.0195],"nice":false,"zero":false},"axis":null,"title":null}}}
]},
{"layer":[
 {"data":{"values":[{}]},"mark":{"type":"rect","color":"#3a2a70"},
  "encoding":{"x":{"datum":{"year":2025,"month":8,"date":16,"hours":10,"minutes":48},"type":"temporal","scale":{"domain":[{"year":2025,"month":8,"date":15,"hours":19,"minutes":32},{"year":2025,"month":12,"date":24,"hours":7,"minutes":49}]},"axis":null,"title":null},
  "x2":{"datum":{"year":2025,"month":12,"date":17,"hours":16,"minutes":48}},
  "y":{"datum":30,"type":"quantitative","scale":{"domain":[-235,1207.5],"nice":false,"zero":false},"axis":null,"title":null},
  "y2":{"datum":70}}},
 {"data":{"name":"ohlc"},"mark":{"type":"line","color":"#d4b22c","strokeWidth":1},
  "encoding":{"x":{"field":"t","type":"temporal","scale":{"domain":[{"year":2025,"month":8,"date":15,"hours":19,"minutes":32},{"year":2025,"month":12,"date":24,"hours":7,"minutes":49}]},"axis":null,"title":null},
  "y":{"field":"r","type":"quantitative","scale":{"domain":[-235,1207.5],"nice":false,"zero":false},"axis":null,"title":null}}},
 {"data":{"values":[{}]},"mark":{"type":"text","text":"100.00","align":"left","baseline":"middle","dx":4,"dy":4,"fontSize":9,"color":"#8a8d94"},
  "encoding":{"x":{"datum":{"year":2025,"month":12,"date":18,"hours":1,"minutes":57},"type":"temporal","scale":{"domain":[{"year":2025,"month":8,"date":15,"hours":19,"minutes":32},{"year":2025,"month":12,"date":24,"hours":7,"minutes":49}]},"axis":null,"title":null},
  "y":{"datum":100,"type":"quantitative","scale":{"domain":[-235,1207.5],"nice":false,"zero":false},"axis":null,"title":null}}},
 {"data":{"values":[{}]},"mark":{"type":"rule","color":"#4d4d4d","strokeWidth":2},
  "encoding":{"x":{"datum":{"year":2025,"month":8,"date":16,"hours":10,"minutes":48},"type":"temporal","scale":{"domain":[{"year":2025,"month":8,"date":15,"hours":19,"minutes":32},{"year":2025,"month":12,"date":24,"hours":7,"minutes":49}]},"axis":null,"title":null},
  "x2":{"datum":{"year":2025,"month":12,"date":23,"hours":13,"minutes":26}},
  "y":{"datum":92.5,"type":"quantitative","scale":{"domain":[-235,1207.5],"nice":false,"zero":false},"axis":null,"title":null}}},
 {"data":{"values":[{}]},"mark":{"type":"rule","color":"#4d4d4d","strokeWidth":2},
  "encoding":{"x":{"datum":{"year":2025,"month":8,"date":16,"hours":10,"minutes":48},"type":"temporal","scale":{"domain":[{"year":2025,"month":8,"date":15,"hours":19,"minutes":32},{"year":2025,"month":12,"date":24,"hours":7,"minutes":49}]},"axis":null,"title":null},
  "x2":{"datum":{"year":2025,"month":12,"date":23,"hours":13,"minutes":26}},
  "y":{"datum":-5,"type":"quantitative","scale":{"domain":[-235,1207.5],"nice":false,"zero":false},"axis":null,"title":null}}},
 {"data":{"values":[{}]},"mark":{"type":"text","text":"RSI (14, close)","align":"left","baseline":"middle","fontSize":7.4,"color":"#b2b5be"},
  "encoding":{"x":{"datum":{"year":2025,"month":8,"date":17,"hours":8,"minutes":14},"type":"temporal","scale":{"domain":[{"year":2025,"month":8,"date":15,"hours":19,"minutes":32},{"year":2025,"month":12,"date":24,"hours":7,"minutes":49}]},"axis":null,"title":null},
  "y":{"datum":65,"type":"quantitative","scale":{"domain":[-235,1207.5],"nice":false,"zero":false},"axis":null,"title":null}}},
 {"data":{"values":[{}]},"mark":{"type":"text","text":"61.21","align":"left","baseline":"middle","dx":55,"fontSize":7.4,"color":"#e8d23a"},
  "encoding":{"x":{"datum":{"year":2025,"month":8,"date":17,"hours":8,"minutes":14},"type":"temporal","scale":{"domain":[{"year":2025,"month":8,"date":15,"hours":19,"minutes":32},{"year":2025,"month":12,"date":24,"hours":7,"minutes":49}]},"axis":null,"title":null},
  "y":{"datum":65,"type":"quantitative","scale":{"domain":[-235,1207.5],"nice":false,"zero":false},"axis":null,"title":null}}},
 {"data":{"values":[{}]},"mark":{"type":"rect","color":"#f2e22a","cornerRadius":1},
  "encoding":{"x":{"datum":{"year":2025,"month":12,"date":15,"hours":15,"minutes":50},"type":"temporal","scale":{"domain":[{"year":2025,"month":8,"date":15,"hours":19,"minutes":32},{"year":2025,"month":12,"date":24,"hours":7,"minutes":49}]},"axis":null,"title":null},
  "x2":{"datum":{"year":2025,"month":12,"date":17,"hours":14,"minutes":0}},
  "y":{"datum":50.75,"type":"quantitative","scale":{"domain":[-235,1207.5],"nice":false,"zero":false},"axis":null,"title":null},
  "y2":{"datum":75.75}}},
 {"data":{"values":[{}]},"mark":{"type":"rect","color":"#f2e22a","cornerRadius":1},
  "encoding":{"x":{"datum":{"year":2025,"month":12,"date":17,"hours":19,"minutes":49},"type":"temporal","scale":{"domain":[{"year":2025,"month":8,"date":15,"hours":19,"minutes":32},{"year":2025,"month":12,"date":24,"hours":7,"minutes":49}]},"axis":null,"title":null},
  "x2":{"datum":{"year":2025,"month":12,"date":21,"hours":12,"minutes":29}},
  "y":{"datum":50.75,"type":"quantitative","scale":{"domain":[-235,1207.5],"nice":false,"zero":false},"axis":null,"title":null},
  "y2":{"datum":75.75}}},
 {"data":{"values":[{}]},"mark":{"type":"text","text":"RSI","align":"center","baseline":"middle","fontSize":7.5,"color":"#222222"},
  "encoding":{"x":{"datum":{"year":2025,"month":12,"date":16,"hours":16,"minutes":18},"type":"temporal","scale":{"domain":[{"year":2025,"month":8,"date":15,"hours":19,"minutes":32},{"year":2025,"month":12,"date":24,"hours":7,"minutes":49}]},"axis":null,"title":null},
  "y":{"datum":63.25,"type":"quantitative","scale":{"domain":[-235,1207.5],"nice":false,"zero":false},"axis":null,"title":null}}},
 {"data":{"values":[{}]},"mark":{"type":"text","text":"61.21","align":"center","baseline":"middle","fontSize":8.5,"color":"#222222"},
  "encoding":{"x":{"datum":{"year":2025,"month":12,"date":19,"hours":14,"minutes":40},"type":"temporal","scale":{"domain":[{"year":2025,"month":8,"date":15,"hours":19,"minutes":32},{"year":2025,"month":12,"date":24,"hours":7,"minutes":49}]},"axis":null,"title":null},
  "y":{"datum":63.25,"type":"quantitative","scale":{"domain":[-235,1207.5],"nice":false,"zero":false},"axis":null,"title":null}}}
]},
{"layer":[
 {"data":{"values":[{}]},"mark":{"type":"rule","color":"#4a4a4a","strokeWidth":1,"strokeDash":[3,3]},
  "encoding":{"x":{"datum":{"year":2025,"month":8,"date":16,"hours":10,"minutes":48},"type":"temporal","scale":{"domain":[{"year":2025,"month":8,"date":15,"hours":19,"minutes":32},{"year":2025,"month":12,"date":24,"hours":7,"minutes":49}]},"axis":null,"title":null},
  "x2":{"datum":{"year":2025,"month":12,"date":17,"hours":16,"minutes":48}},
  "y":{"datum":0,"type":"quantitative","scale":{"domain":[-0.2336,1.6128],"nice":false,"zero":false},"axis":null,"title":null}}},
 {"data":{"name":"ohlc"},"mark":{"type":"rule","strokeWidth":3.6,"opacity":0.85},
  "encoding":{"x":{"field":"t","type":"temporal","scale":{"domain":[{"year":2025,"month":8,"date":15,"hours":19,"minutes":32},{"year":2025,"month":12,"date":24,"hours":7,"minutes":49}]},"axis":null,"title":null},
  "y":{"field":"m","type":"quantitative","scale":{"domain":[-0.2336,1.6128],"nice":false,"zero":false},"axis":null,"title":null},
  "y2":{"datum":0},
  "color":{"condition":{"test":"datum.m >= 0","value":"#26a69a"},"value":"#e0455a"}}},
 {"data":{"name":"xdays"},"mark":{"type":"text","align":"center","baseline":"middle","fontSize":9,"color":"#a3a6af"},
  "encoding":{"x":{"field":"d","type":"temporal","scale":{"domain":[{"year":2025,"month":8,"date":15,"hours":19,"minutes":32},{"year":2025,"month":12,"date":24,"hours":7,"minutes":49}]},"axis":null,"title":null},
  "y":{"datum":-0.0864,"type":"quantitative","scale":{"domain":[-0.2336,1.6128],"nice":false,"zero":false},"axis":null,"title":null},
  "text":{"field":"d","type":"temporal","format":"%-d"}}},
 {"data":{"name":"xmonths"},"mark":{"type":"text","align":"center","baseline":"middle","fontSize":9,"fontWeight":"bold","color":"#d6d6d6"},
  "encoding":{"x":{"field":"d","type":"temporal","scale":{"domain":[{"year":2025,"month":8,"date":15,"hours":19,"minutes":32},{"year":2025,"month":12,"date":24,"hours":7,"minutes":49}]},"axis":null,"title":null},
  "y":{"datum":-0.0864,"type":"quantitative","scale":{"domain":[-0.2336,1.6128],"nice":false,"zero":false},"axis":null,"title":null},
  "text":{"field":"d","type":"temporal","format":"%b"}}},
 {"data":{"values":[{}]},"mark":{"type":"text","text":"MACD (12, 26, close)","align":"left","baseline":"middle","fontSize":7.4,"color":"#b2b5be"},
  "encoding":{"x":{"datum":{"year":2025,"month":8,"date":17,"hours":8,"minutes":14},"type":"temporal","scale":{"domain":[{"year":2025,"month":8,"date":15,"hours":19,"minutes":32},{"year":2025,"month":12,"date":24,"hours":7,"minutes":49}]},"axis":null,"title":null},
  "y":{"datum":0.0288,"type":"quantitative","scale":{"domain":[-0.2336,1.6128],"nice":false,"zero":false},"axis":null,"title":null}}},
 {"data":{"values":[{}]},"mark":{"type":"text","text":"0.0511","align":"left","baseline":"middle","dx":75,"fontSize":7.4,"color":"#d1e8e4"},
  "encoding":{"x":{"datum":{"year":2025,"month":8,"date":17,"hours":8,"minutes":14},"type":"temporal","scale":{"domain":[{"year":2025,"month":8,"date":15,"hours":19,"minutes":32},{"year":2025,"month":12,"date":24,"hours":7,"minutes":49}]},"axis":null,"title":null},
  "y":{"datum":0.0288,"type":"quantitative","scale":{"domain":[-0.2336,1.6128],"nice":false,"zero":false},"axis":null,"title":null}}},
 {"data":{"values":[{}]},"mark":{"type":"rect","color":"#b2dfdb","cornerRadius":1},
  "encoding":{"x":{"datum":{"year":2025,"month":12,"date":12,"hours":8,"minutes":24},"type":"temporal","scale":{"domain":[{"year":2025,"month":8,"date":15,"hours":19,"minutes":32},{"year":2025,"month":12,"date":24,"hours":7,"minutes":49}]},"axis":null,"title":null},
  "x2":{"datum":{"year":2025,"month":12,"date":17,"hours":14,"minutes":0}},
  "y":{"datum":0.0256,"type":"quantitative","scale":{"domain":[-0.2336,1.6128],"nice":false,"zero":false},"axis":null,"title":null},
  "y2":{"datum":0.0592}}},
 {"data":{"values":[{}]},"mark":{"type":"rect","color":"#b2dfdb","cornerRadius":1},
  "encoding":{"x":{"datum":{"year":2025,"month":12,"date":17,"hours":19,"minutes":49},"type":"temporal","scale":{"domain":[{"year":2025,"month":8,"date":15,"hours":19,"minutes":32},{"year":2025,"month":12,"date":24,"hours":7,"minutes":49}]},"axis":null,"title":null},
  "x2":{"datum":{"year":2025,"month":12,"date":22,"hours":3,"minutes":50}},
  "y":{"datum":0.0256,"type":"quantitative","scale":{"domain":[-0.2336,1.6128],"nice":false,"zero":false},"axis":null,"title":null},
  "y2":{"datum":0.0592}}},
 {"data":{"values":[{}]},"mark":{"type":"text","text":"Histogram","align":"center","baseline":"middle","fontSize":7.5,"color":"#2a2e39"},
  "encoding":{"x":{"datum":{"year":2025,"month":12,"date":15,"hours":0,"minutes":29},"type":"temporal","scale":{"domain":[{"year":2025,"month":8,"date":15,"hours":19,"minutes":32},{"year":2025,"month":12,"date":24,"hours":7,"minutes":49}]},"axis":null,"title":null},
  "y":{"datum":0.0424,"type":"quantitative","scale":{"domain":[-0.2336,1.6128],"nice":false,"zero":false},"axis":null,"title":null}}},
 {"data":{"values":[{}]},"mark":{"type":"text","text":"0.0511","align":"center","baseline":"middle","fontSize":8.5,"color":"#2a2e39"},
  "encoding":{"x":{"datum":{"year":2025,"month":12,"date":19,"hours":22,"minutes":19},"type":"temporal","scale":{"domain":[{"year":2025,"month":8,"date":15,"hours":19,"minutes":32},{"year":2025,"month":12,"date":24,"hours":7,"minutes":49}]},"axis":null,"title":null},
  "y":{"datum":0.0424,"type":"quantitative","scale":{"domain":[-0.2336,1.6128],"nice":false,"zero":false},"axis":null,"title":null}}},
 {"data":{"values":[{}]},"mark":{"type":"text","text":"0.0000","align":"left","baseline":"middle","dx":4,"fontSize":9,"color":"#8a8d94"},
  "encoding":{"x":{"datum":{"year":2025,"month":12,"date":18,"hours":1,"minutes":57},"type":"temporal","scale":{"domain":[{"year":2025,"month":8,"date":15,"hours":19,"minutes":32},{"year":2025,"month":12,"date":24,"hours":7,"minutes":49}]},"axis":null,"title":null},
  "y":{"datum":0,"type":"quantitative","scale":{"domain":[-0.2336,1.6128],"nice":false,"zero":false},"axis":null,"title":null}}}
]}
],
"resolve":{"scale":{"y":"independent"},"axis":{"y":"independent"}}
}
